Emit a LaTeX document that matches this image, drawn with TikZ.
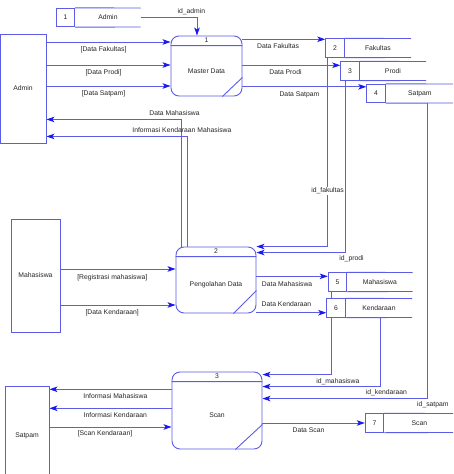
\documentclass[tikz,border=0pt]{standalone}
\usepackage{fontspec}
\setmainfont{Liberation Sans}
\usetikzlibrary{arrows.meta,positioning,backgrounds}
\definecolor{dfd}{RGB}{92,92,228}
\definecolor{tipblue}{RGB}{25,25,240}
\tikzstyle{entity} = [rectangle, draw=dfd, line width=0.9pt, inner sep=0pt]
\tikzstyle{proc} = [rectangle, draw=dfd, line width=0.9pt, rounded corners=8pt, inner sep=0pt]
\tikzstyle{cell} = [rectangle, draw=dfd, fill=white, line width=0.9pt, minimum size=18.5pt, inner sep=0pt]
\tikzstyle{storename} = [minimum height=18.5pt, inner sep=0pt]
\tikzstyle{dfdline} = [draw=dfd, line width=0.9pt]
\tikzstyle{flow} = [dfdline, -{Stealth[length=8pt,width=5.5pt,inset=2pt,color=tipblue]}]
\tikzstyle{lbl} = [inner sep=1pt, text height=5pt, text depth=1.5pt]

\begin{document}
\begin{tikzpicture}[x=1pt,y=-1pt,font=\fontsize{6.8}{8.2}\selectfont,text=black!85]
  \useasboundingbox (0,0) rectangle (453,474);
  \clip (0,0) rectangle (453,474);

  % external entities
  \node[entity, minimum width=46pt, minimum height=109pt] (admin) at (23,88.5) {Admin};
  \node[entity, minimum width=49pt, minimum height=113pt] (mhs) at (35.5,275.5) {Mahasiswa};
  \node[entity, minimum width=44pt, minimum height=100pt] (satpam) at (27,436) {Satpam};

  % processes
  \node[proc, minimum width=71pt, minimum height=60pt] (p1) at (206.5,66) {};
  \node[proc, minimum width=80pt, minimum height=66pt] (p2) at (216,280) {};
  \node[proc, minimum width=90pt, minimum height=77pt] (p3) at (217,410.5) {};
  \node (p1n) at ([yshift=-5pt]p1.north) {1};
  \node (p2n) at ([yshift=-5pt]p2.north) {2};
  \node (p3n) at ([yshift=-5pt]p3.north) {3};
  \node (p1t) at ([yshift=-5.5pt]p1.center) {Master Data};
  \node (p2t) at ([yshift=-5pt]p2.center) {Pengolahan Data};
  \node (p3t) at ([yshift=-5pt]p3.center) {Scan};
  \draw[dfdline] ([yshift=-10pt]p1.north west) -- ([yshift=-10pt]p1.north east)
                 ([xshift=-20pt]p1.south east) -- ([yshift=19pt]p1.south east);
  \draw[dfdline] ([yshift=-10pt]p2.north west) -- ([yshift=-10pt]p2.north east)
                 ([xshift=-23pt]p2.south east) -- ([yshift=23pt]p2.south east);
  \draw[dfdline] ([yshift=-10pt]p3.north west) -- ([yshift=-10pt]p3.north east)
                 ([xshift=-27pt]p3.south east) -- ([yshift=25pt]p3.south east);

  % data stores
  \node[cell] (s1) at (65.5,17.5) {1};
  \node[storename, right=0pt of s1, minimum width=65pt] (n1) {Admin};
  \node[cell] (s2) at (335,48) {2};
  \node[storename, right=0pt of s2, minimum width=66pt] (n2) {Fakultas};
  \node[cell] (s3) at (350,71) {3};
  \node[storename, right=0pt of s3, minimum width=66pt] (n3) {Prodi};
  \node[cell] (s4) at (376,93.5) {4};
  \node[storename, right=0pt of s4, minimum width=68pt] (n4) {Satpam};
  \node[cell] (s5) at (337.5,282) {5};
  \node[storename, right=0pt of s5, minimum width=65pt] (n5) {Mahasiswa};
  \node[cell] (s6) at (336,308) {6};
  \node[storename, right=0pt of s6, minimum width=66pt] (n6) {Kendaraan};
  \node[cell] (s7) at (374.5,423) {7};
  \node[storename, right=0pt of s7, minimum width=70pt] (n7) {Scan};
  \foreach \i in {1,...,7}
    \draw[dfdline] (s\i.north east) -- (n\i.north east) (s\i.south east) -- (n\i.south east);

  \begin{scope}[on background layer]
    \fill[white] (0,0) rectangle (453,474);

    \draw[flow] (n1.east) -| node[lbl, above=1.5pt, pos=.45] {id\_admin} ([xshift=-9.5pt]p1.north);

    \coordinate (a1) at ([yshift=24pt]p1.west);
    \coordinate (a2) at ([yshift=1pt]p1.west);
    \coordinate (a3) at ([yshift=-20pt]p1.west);
    \draw[flow] (a1 -| admin.east) -- node[lbl, below=3pt, pos=.46] {[Data Fakultas]} (a1);
    \draw[flow] (a2 -| admin.east) -- node[lbl, below=3pt, pos=.46] {[Data Prodi]} (a2);
    \draw[flow] (a3 -| admin.east) -- node[lbl, below=3.5pt, pos=.46] {[Data Satpam]} (a3);

    \draw[flow] ([xshift=6pt]p2.north west) |- node[lbl, above=1.5pt, pos=.526] {Data Mahasiswa} ([yshift=24pt]admin.south east);
    \draw[flow] ([xshift=12pt]p2.north west) |- node[lbl, above=1.5pt, pos=.52] {Informasi Kendaraan Mahasiswa} ([yshift=7pt]admin.south east);

    \coordinate (b1) at ([yshift=11pt]p2.west);
    \coordinate (b2) at ([yshift=-25pt]p2.west);
    \draw[flow] (b1 -| mhs.east) -- node[lbl, below=4pt, pos=.45] {[Registrasi mahasiswa]} (b1);
    \draw[flow] (b2 -| mhs.east) -- node[lbl, below=3.5pt, pos=.45] {[Data Kendaraan]} (b2);

    \coordinate (c1) at ([yshift=-1pt]s2.north west);
    \coordinate (c2) at ([yshift=-4pt]s3.north west);
    \coordinate (c3) at ([yshift=-3pt]s4.north west);
    \draw[flow] (c1 -| p1.east) -- node[lbl, below=3pt, pos=.43] {Data Fakultas} (c1);
    \draw[flow] (c2 -| p1.east) -- node[lbl, below=3pt, pos=.44] {Data Prodi} (c2);
    \draw[flow] (c3 -| p1.east) -- node[lbl, below=3pt, pos=.46] {Data Satpam} (c3);

    \draw[flow] ([xshift=2.25pt]s2.south west) |- node[lbl, fill=white, pos=.353] {id\_fakultas} (p2.north east);
    \draw[flow] ([xshift=5.25pt]s3.south west) |- node[lbl, below=1.8pt, xshift=6pt, pos=.5] {id\_prodi} ([yshift=-6pt]p2.north east);

    \coordinate (d1) at ([yshift=-4pt]s5.north west);
    \coordinate (d2) at ([yshift=5pt]s6.south west);
    \draw[flow] (d1 -| p2.east) -- node[lbl, below=3.5pt, pos=.43] {Data Mahasiswa} (d1);
    \draw[flow] (d2 -| p2.east) -- node[lbl, above=3.3pt, pos=.43] {Data Kendaraan} (d2);

    \draw[flow] ([xshift=4pt]s5.south west) |- node[lbl, below=2.5pt, xshift=6pt, pos=.5] {id\_mahasiswa} ([yshift=-3pt]p3.north east);
    \draw[flow] ([xshift=2pt]n6.south) |- node[lbl, below=1.2pt, xshift=5.5pt, pos=.5] {id\_kendaraan} ([yshift=-15pt]p3.north east);
    \draw[flow] ([xshift=8pt]n4.south) |- node[lbl, below=1.5pt, xshift=5pt, pos=.5] {id\_satpam} ([yshift=-27pt]p3.north east);

    \coordinate (e1) at ([yshift=21.2pt]p3.west);
    \coordinate (e2) at ([yshift=2.2pt]p3.west);
    \coordinate (e3) at ([yshift=-16.5pt]p3.west);
    \draw[flow] (e1) -- node[lbl, below=3pt, pos=.46] {Informasi Mahasiswa} (e1 -| satpam.east);
    \draw[flow] (e2) -- node[lbl, below=3pt, pos=.46] {Informasi Kendaraan} (e2 -| satpam.east);
    \draw[flow] (e3 -| satpam.east) -- node[lbl, below=2.5pt, pos=.455] {[Scan Kendaraan]} (e3);

    \draw[flow] (s7.west -| p3.east) -- node[lbl, below=3pt, pos=.45] {Data Scan} (s7.west);
  \end{scope}
\end{tikzpicture}
\end{document}
